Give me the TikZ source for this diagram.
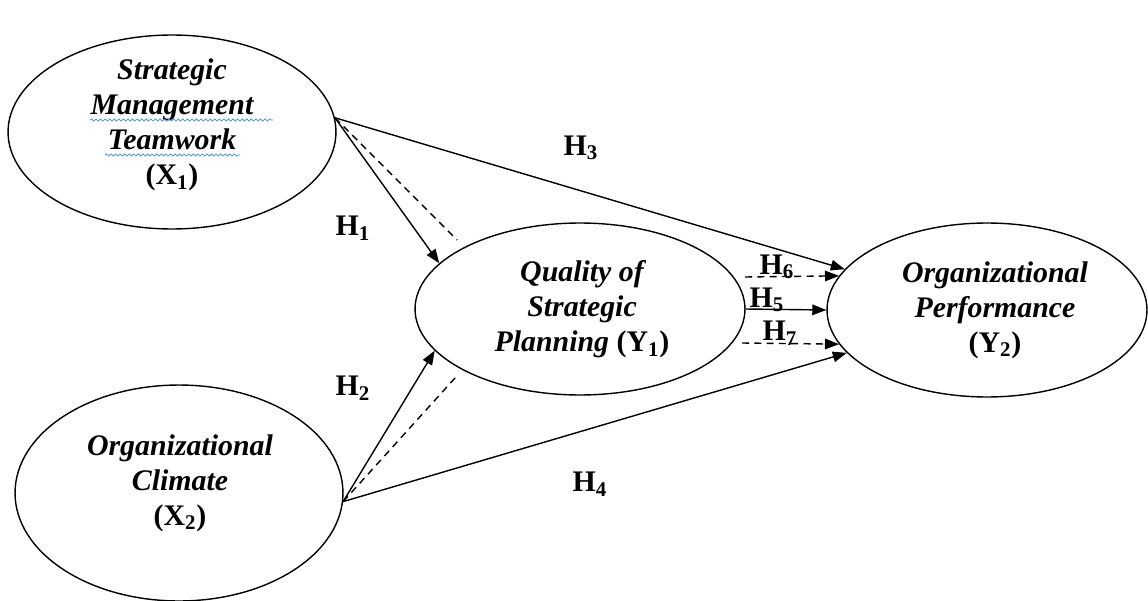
\documentclass[tikz,border=0pt]{standalone}
\usepackage{fontspec}
\setmainfont{Liberation Serif}
\usetikzlibrary{shapes.geometric, arrows.meta, decorations.pathmorphing}
\tikzset{
  pm latent/.style={
    ellipse, draw=black, line width=0.8pt, inner sep=0pt
  },
  pm name/.style={
    align=center, inner sep=0pt,
    font=\fontsize{17}{20}\selectfont\bfseries\itshape
  },
  pm arrow/.style={
    -{Triangle[length=8pt,width=6pt]}, line width=0.8pt
  },
  pm dash/.style={
    line width=0.8pt, dash pattern=on 4pt off 3pt
  },
  pm label/.style={
    font=\fontsize{17}{20}\selectfont\bfseries, inner sep=0pt
  },
  pm squiggle/.style={
    draw=blue!55!cyan!80!white, line width=0.4pt, decorate,
    decoration={snake, amplitude=0.6pt, segment length=2.6pt}
  }
}
\newcommand{\pmvar}[2]{{\upshape(#1\textsubscript{#2})}}

\begin{document}
\begin{tikzpicture}[x=0.02cm, y=-0.02cm]
  \useasboundingbox (0,0) rectangle (1148,601);

  \node (x1) [pm latent, minimum width=6.56cm, minimum height=3.88cm] at (172,132) {};
  \node (x2) [pm latent, minimum width=6.56cm, minimum height=4.32cm] at (179,493) {};
  \node (y1) [pm latent, minimum width=6.6cm, minimum height=3.44cm] at (580,309) {};
  \node (y2) [pm latent, minimum width=6.4cm, minimum height=3.48cm] at (987,310) {};

  \node (x1txt) [pm name] at (172,125) {Strategic\\Management\\Teamwork\\\pmvar{X}{1}};
  \node (x2txt) [pm name] at (180,483) {Organizational\\Climate\\\pmvar{X}{2}};
  \node (y1txt) [pm name] at (582,309) {Quality of\\Strategic\\Planning \pmvar{Y}{1}};
  \node (y2txt) [pm name] at (995,310) {Organizational\\Performance\\\pmvar{Y}{2}};

  \draw [pm squiggle] (90,120) -- (273,120);
  \draw [pm squiggle] (105,155) -- (240,155);

  \coordinate (d1) at (457,240);
  \coordinate (d2) at (455,378);
  \coordinate (h6s) at (745,277);
  \coordinate (h7s) at (742,343);

  \draw [pm arrow] (x1.5) -- (y1.162);
  \draw [pm dash] (x1.5) -- (d1);
  \draw [pm arrow] (x1.5) -- (y2.164);
  \draw [pm arrow] (x2.357) -- (y1.196);
  \draw [pm dash] (x2.357) -- (d2);
  \draw [pm arrow] (x2.357) -- (y2.197);
  \draw [pm arrow] (y1.east) -- (y2.west);
  \draw [pm arrow, pm dash] (h6s) -- (y2.167);
  \draw [pm arrow, pm dash] (h7s) -- (y2.193);

  \node (h1) [pm label] at (353,228) {H\textsubscript{1}};
  \node (h2) [pm label] at (353,388) {H\textsubscript{2}};
  \node (h3) [pm label] at (581,148) {H\textsubscript{3}};
  \node (h4) [pm label] at (590,484) {H\textsubscript{4}};
  \node (h5) [pm label] at (767,300) {H\textsubscript{5}};
  \node (h6) [pm label] at (777,267) {H\textsubscript{6}};
  \node (h7) [pm label] at (780,333) {H\textsubscript{7}};
\end{tikzpicture}
\end{document}
